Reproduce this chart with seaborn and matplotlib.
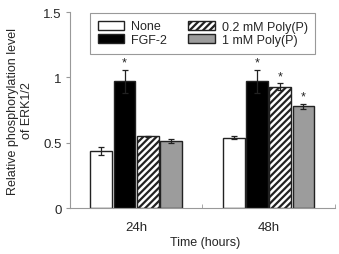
import matplotlib
matplotlib.use("Agg")
import matplotlib.pyplot as plt
import pandas as pd
import seaborn as sns

sns.set_style('white')
plt.rcParams['font.family'] = ['Liberation Sans', 'DejaVu Sans']
plt.rcParams['hatch.linewidth'] = 1.6

# Data
times = ["24h", "48h"]
treatments = ["None", "FGF-2", "0.2 mM Poly(P)", "1 mM Poly(P)"]
none_vals = [0.44, 0.54]
fgf_vals = [0.97, 0.97]
poly02_vals = [0.55, 0.93]
poly1_vals = [0.51, 0.78]
none_err = [0.03, 0.015]
fgf_err = [0.09, 0.09]
poly02_err = [0.005, 0.03]
poly1_err = [0.015, 0.02]
# significance marks (1 = star)
none_sig = [0, 0]
fgf_sig = [1, 1]
poly02_sig = [0, 1]
poly1_sig = [0, 1]

vals = [none_vals, fgf_vals, poly02_vals, poly1_vals]
errs = [none_err, fgf_err, poly02_err, poly1_err]
sigs = [none_sig, fgf_sig, poly02_sig, poly1_sig]

rows = []
for t_i, t in enumerate(times):
    for k, tr in enumerate(treatments):
        rows.append({"Time": t, "Treatment": tr, "Value": vals[k][t_i]})
df = pd.DataFrame(rows)

colors = ["white", "black", "white", "#9c9c9c"]
hatches = ["", "", "/////", ""]

fig = plt.figure(figsize=(3.39, 2.55), dpi=100)
ax = fig.add_axes([0.206, 0.18, 0.782, 0.769])
sns.barplot(data=df, x="Time", y="Value", hue="Treatment", hue_order=treatments,
            order=times, palette=colors, width=0.7, gap=0.06, errorbar=None,
            edgecolor="#222222", linewidth=1.0, ax=ax, legend=True)

bar_containers = list(ax.containers)
for k, cont in enumerate(bar_containers):
    for t_i, bar in enumerate(cont):
        bar.set_hatch(hatches[k])
        bar.set_facecolor(colors[k])
        bar.set_edgecolor("#222222")
        xc = bar.get_x() + bar.get_width() / 2
        top = bar.get_height()
        ax.errorbar(xc, top, yerr=errs[k][t_i], color="#222222", capsize=2.5,
                    elinewidth=0.9, capthick=0.9)
        if sigs[k][t_i]:
            ax.text(xc, top + errs[k][t_i] + 0.005, "*", ha="center", va="bottom",
                    fontsize=9)

ax.set_ylim(0, 1.5)
ax.set_xlim(-0.5, 1.5)
ax.set_yticks([0, 0.5, 1, 1.5])
ax.set_yticklabels(["0", "0.5", "1", "1.5"])
ax.set_xticks([0, 1])
ax.set_xticklabels(times)
ax.set_xticks([0.5, 1.5], minor=True)
ax.tick_params(axis="y", which="major", direction="out", length=3, width=0.8,
               color="#999999", labelsize=9.5, left=True, pad=3)
ax.tick_params(axis="x", which="major", length=0, labelsize=9.5, pad=9)
ax.tick_params(axis="x", which="minor", direction="in", length=3, color="#999999",
               bottom=True)
sns.despine(ax=ax)
for s in ["left", "bottom"]:
    ax.spines[s].set_color("#999999")
    ax.spines[s].set_linewidth(0.8)

ax.set_xlabel("Time (hours)", fontsize=9)
ax.xaxis.set_label_coords(0.51, -0.14)
ax.set_ylabel("Relative phosphorylation level\nof ERK1/2", fontsize=9, labelpad=7)

handles, labels = ax.get_legend_handles_labels()
for k, h in enumerate(handles):
    h.set_hatch(hatches[k])
    h.set_facecolor(colors[k])
    h.set_edgecolor("#222222")
leg = ax.legend(handles, labels, ncol=2, loc="upper left",
                bbox_to_anchor=(90 / 339, 1 - 14 / 255), bbox_transform=fig.transFigure,
                fontsize=9, fancybox=False, edgecolor="#999999", framealpha=1,
                handlelength=2.15, handleheight=0.72, columnspacing=1.75,
                handletextpad=0.5, labelspacing=0.12, borderpad=0.6,
                borderaxespad=0)
leg.get_frame().set_linewidth(0.8)

plt.savefig("out.png", dpi=100)
